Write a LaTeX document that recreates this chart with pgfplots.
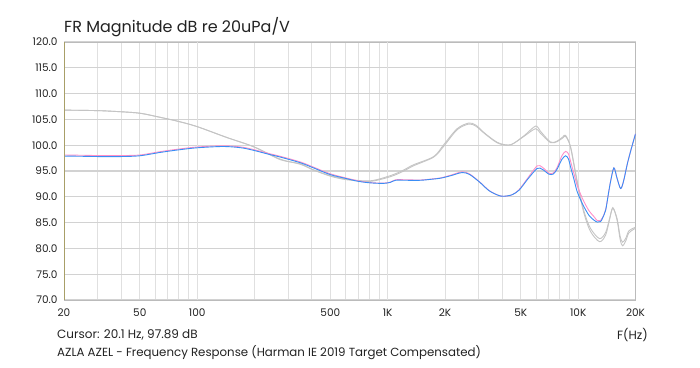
\documentclass[border=0pt]{standalone}
\usepackage{fontspec}
\setmainfont{Poppins}
\usepackage{pgfplots}
\pgfplotsset{compat=1.18}
\definecolor{bl}{HTML}{3A8EF5}
\definecolor{pk}{HTML}{FF8FC8}
\definecolor{gr}{HTML}{C4C4C4}
\definecolor{gridmin}{HTML}{E0E0E0}
\definecolor{gridh}{HTML}{D2D2D2}
\definecolor{gridmaj}{HTML}{BBBBBB}
\definecolor{olivel}{HTML}{A89F68}
\definecolor{txt}{HTML}{222222}
\begin{document}
\begin{tikzpicture}
\useasboundingbox (0,0) rectangle (700bp,368bp);
\begin{axis}[
  at={(64bp,68bp)}, anchor=south west,
  scale only axis, width=571.5bp, height=258bp,
  xmode=log, xmin=20, xmax=20000, ymin=70, ymax=120,
  /pgf/number format/assume math mode=true,
  ytick={70,75,...,120},
  yticklabel={\pgfmathprintnumber[fixed,fixed zerofill,precision=1]{\tick}},
  xtick={20,50,500,2000,5000,20000},
  xticklabels={20,50,500,2K,5K,20K},
  extra x ticks={100,1000,10000},
  extra x tick labels={100,1K,10K},
  extra x tick style={grid style={gridmaj, line width=0.8bp}},
  minor xtick={30,40,60,70,80,90,200,300,400,600,700,800,900,3000,4000,6000,7000,8000,9000},
  xmajorgrids, xminorgrids, ymajorgrids,
  x grid style={gridmin, line width=0.8bp},
  minor x grid style={gridmin, line width=0.8bp},
  y grid style={gridh, line width=1.1bp},
  major tick length=0pt, minor tick length=0pt,
  axis line style={gridmaj, line width=0.8bp},
  tick label style={font=\fontsize{10.5bp}{12bp}\selectfont, text=txt},
  xticklabel style={yshift=-5bp},
  yticklabel style={xshift=-3bp},
  clip=true,
]
\addplot[gr, line width=0.9bp, smooth] coordinates {
(20,106.8)(30,106.7)(39,106.5)(50,106.2)(64,105.4)(80,104.6)(100,103.6)(143,101.5)(198,99.7)(273,97.3)(348,96.3)(408,95.2)(500,94.0)(612,93.3)(811,93.0)(1033,93.9)(1200,94.9)(1365,96.0)(1745,97.7)(1970,99.8)(2316,103.0)(2666,104.1)(2900,103.7)(3192,102.4)(3600,100.9)(3910,100.2)(4440,100.1)(5187,101.7)(5973,103.2)(6340,102.3)(7160,100.5)(7760,100.7)(8300,101.4)(8590,101.7)(9120,99.7)(9880,93.1)(10710,87.3)(11600,83.9)(12950,81.9)(13940,83.1)(14600,85.7)(15200,87.8)(16000,85.8)(16600,82.4)(17100,81.2)(17800,82.0)(18460,83.4)(20000,84.1)
};
\addplot[gr, line width=0.9bp, smooth] coordinates {
(20,106.8)(30,106.7)(39,106.5)(50,106.2)(64,105.4)(80,104.6)(100,103.6)(143,101.5)(198,99.7)(273,97.2)(348,96.4)(408,95.2)(500,94.1)(612,93.4)(811,93.1)(1033,94.1)(1200,95.1)(1365,96.2)(1745,97.8)(1970,100.1)(2316,103.2)(2666,104.3)(2900,103.9)(3192,102.5)(3600,101.0)(3910,100.3)(4440,100.1)(5187,101.8)(5973,103.7)(6340,102.7)(7160,100.6)(7760,100.8)(8300,101.6)(8590,101.9)(9120,99.6)(9880,92.7)(10710,86.9)(11600,83.3)(12950,81.3)(13940,82.6)(14600,85.5)(15200,87.9)(16000,85.5)(16600,81.8)(17100,80.5)(17800,81.5)(18460,83.0)(20000,83.9)
};
\addplot[pk, line width=0.9bp, smooth] coordinates {
(20,98.1)(25,98.05)(30,98.0)(40,98.0)(50,98.1)(64,98.75)(80,99.25)(100,99.65)(137,99.9)(170,99.65)(198,99.15)(240,98.35)(273,97.85)(348,96.75)(408,95.75)(500,94.45)(612,93.6)(700,93.1)(811,92.75)(950,92.65)(1033,92.85)(1100,93.3)(1250,93.3)(1485,93.25)(1700,93.45)(1892,93.65)(2150,94.2)(2461,94.85)(2700,94.4)(3069,92.75)(3400,91.25)(3800,90.3)(4065,90.1)(4500,90.4)(4900,91.4)(5430,93.6)(6096,96.0)(6500,95.7)(7016,94.6)(7400,94.6)(7760,95.7)(8200,97.9)(8590,98.8)(8900,98.3)(9120,96.9)(9500,94.5)(9880,92.2)(10300,90.5)(10710,89.1)(11400,87.3)(12080,86.2)(12600,85.4)(13100,85.4)(13400,85.9)(13940,87.5)(14400,90.5)(14800,93.0)(15400,95.6)(16000,93.6)(16700,91.6)(17300,93.0)(18120,96.4)(19000,99.3)(20000,102.2)
};
\addplot[bl, line width=0.9bp, smooth] coordinates {
(20,97.9)(25,97.85)(30,97.8)(40,97.8)(50,97.95)(64,98.6)(80,99.1)(100,99.5)(137,99.75)(170,99.5)(198,99.0)(240,98.2)(273,97.7)(348,96.6)(408,95.6)(500,94.3)(612,93.5)(700,93.0)(811,92.7)(950,92.6)(1033,92.8)(1100,93.2)(1250,93.2)(1485,93.2)(1700,93.4)(1892,93.6)(2150,94.1)(2461,94.7)(2700,94.3)(3069,92.7)(3400,91.2)(3800,90.3)(4065,90.1)(4500,90.4)(4900,91.3)(5430,93.4)(6096,95.5)(6500,95.3)(7016,94.4)(7400,94.4)(7760,95.4)(8200,97.2)(8590,97.95)(8900,97.3)(9120,95.8)(9500,93.4)(9880,91.0)(10300,89.4)(10710,88.1)(11400,86.4)(12080,85.5)(12600,85.1)(13100,85.2)(13400,85.8)(13940,87.4)(14400,90.5)(14800,93.0)(15400,95.6)(16000,93.6)(16700,91.6)(17300,93.0)(18120,96.4)(19000,99.3)(20000,102.2)
};
\draw[olivel, line width=0.9bp] (rel axis cs:0,0) -- (rel axis cs:0,1);
\end{axis}
\node[anchor=base west, inner sep=0pt, text=txt, font=\fontsize{16bp}{19bp}\selectfont] at (64bp,335bp) {FR Magnitude dB re 20uPa/V};
\node[anchor=west, inner sep=0pt, text=txt, font=\fontsize{12bp}{14bp}\selectfont] at (57bp,33bp) {Cursor: 20.1 Hz, 97.89 dB};
\node[anchor=east, inner sep=0pt, text=txt, font=\fontsize{12bp}{14bp}\selectfont] at (648bp,33bp) {F(Hz)};
\node[anchor=west, inner sep=0pt, text=txt, font=\fontsize{11.8bp}{14bp}\selectfont] at (57bp,15bp) {AZLA AZEL - Frequency Response (Harman IE 2019 Target Compensated)};
\end{tikzpicture}
\end{document}
